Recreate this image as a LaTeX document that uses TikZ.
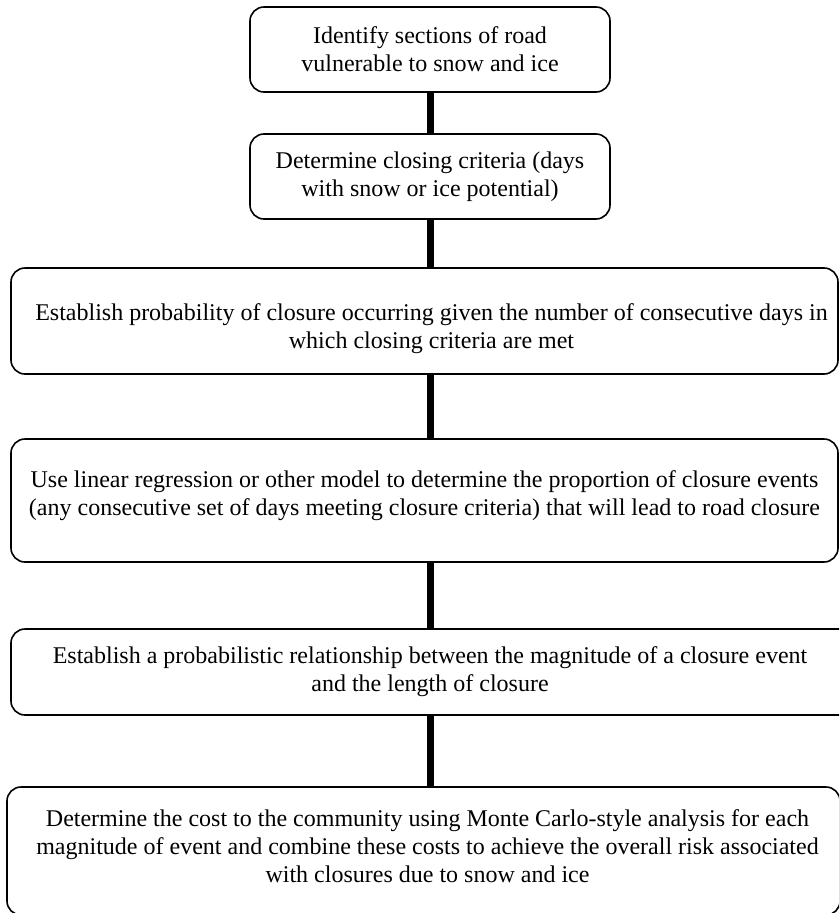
\documentclass[tikz,border=0pt]{standalone}
\usepackage{fontspec}
\setmainfont{Liberation Serif}
\begin{document}
\begin{tikzpicture}[x=1pt,y=-1pt,
  stepbox/.style={draw=black, line width=1.6pt, rounded corners=14pt,
    align=center, inner sep=0pt, font=\fontsize{24}{28}\selectfont},
  link/.style={line width=7pt, black}]
\useasboundingbox (0,0) rectangle (839,913);
\begin{scope}
\clip (0,0) rectangle (839,913);
\node[stepbox, minimum width=360pt, minimum height=85pt] (s1) at (430,49.5)
  {Identify sections of road\\vulnerable to snow and ice};
\node[stepbox, minimum width=360pt, minimum height=85pt] (s2) at (430,176.5)
  {Determine closing criteria (days\\with snow or ice potential)};
\node[stepbox, minimum width=827pt, minimum height=106pt] (s3) at (424.5,321)
  {\rule{0pt}{33pt}\hspace*{14pt}Establish probability of closure occurring given the number of consecutive days in\\\hspace*{14pt}which closing criteria are met};
\node[stepbox, minimum width=827pt, minimum height=123pt] (s4) at (424.5,500.5)
  {Use linear regression or other model to determine the proportion of closure events\\(any consecutive set of days meeting closure criteria) that will lead to road closure\rule[-14pt]{0pt}{14pt}};
\node[stepbox, minimum width=852pt, minimum height=86pt] (s5) at (437,672)
  {\hspace*{-14pt}Establish a probabilistic relationship between the magnitude of a closure event\\\hspace*{-14pt}and the length of closure};
\node[stepbox, minimum width=833pt, minimum height=128pt] (s6) at (423.5,851)
  {\hspace*{8pt}Determine the cost to the community using Monte Carlo-style analysis for each\\\hspace*{8pt}magnitude of event and combine these costs to achieve the overall risk associated\\\hspace*{8pt}with closures due to snow and ice\rule[-10pt]{0pt}{10pt}};
\end{scope}
\draw[link] (s1.south) -- (s2.north);
\draw[link] (s2.south) -- (s2.south |- s3.north);
\draw[link] (s2.south |- s3.south) -- (s2.south |- s4.north);
\draw[link] (s2.south |- s4.south) -- (s2.south |- s5.north);
\draw[link] (s2.south |- s5.south) -- (s2.south |- s6.north);
\end{tikzpicture}
\end{document}
